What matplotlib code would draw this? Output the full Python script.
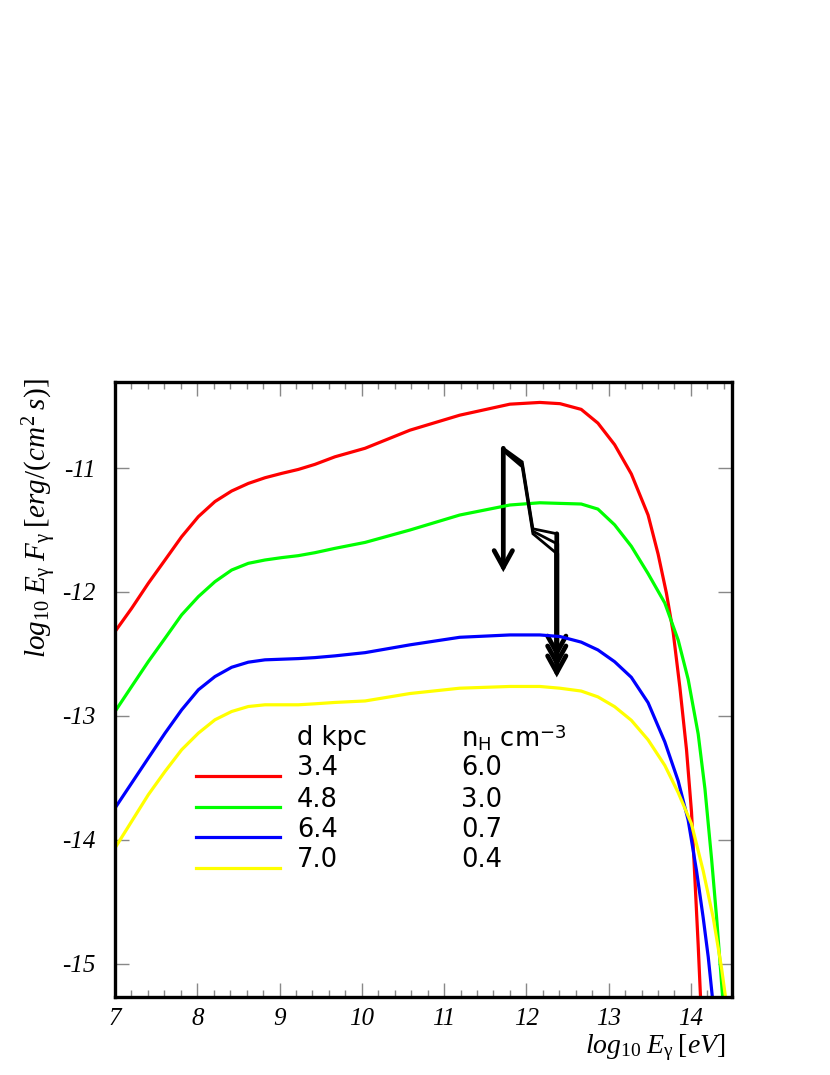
import numpy as np
import matplotlib.pyplot as plt
from matplotlib.patches import FancyArrowPatch
from matplotlib.ticker import MultipleLocator

plt.rcParams['mathtext.fontset'] = 'custom'
plt.rcParams['mathtext.rm'] = 'Liberation Serif'
plt.rcParams['mathtext.it'] = 'Liberation Serif:italic'
plt.rcParams['mathtext.sf'] = 'DejaVu Sans'
plt.rcParams['axes.unicode_minus'] = False

# ── data ─────────────────────────────────────────────────────────────────────
red_x = [7.0, 7.2025, 7.405, 7.608, 7.81, 8.013, 8.215, 8.418, 8.62, 8.823, 9.025,
         9.228, 9.43, 9.673, 10.04, 10.585, 11.19, 11.8, 12.164, 12.41, 12.667,
         12.87, 13.073, 13.276, 13.48, 13.602, 13.703, 13.785, 13.866, 13.947,
         14.008, 14.049, 14.089, 14.122]
red_y = [-12.32, -12.132, -11.93, -11.742, -11.554, -11.392, -11.27, -11.185,
         -11.124, -11.078, -11.043, -11.011, -10.97, -10.909, -10.84, -10.694,
         -10.573, -10.484, -10.47, -10.48, -10.526, -10.637, -10.811, -11.047,
         -11.379, -11.695, -12.01, -12.326, -12.768, -13.273, -13.778, -14.315,
         -14.852, -15.34]

green_x = [7.0, 7.2025, 7.405, 7.608, 7.81, 8.013, 8.215, 8.418, 8.62, 8.823, 9.025,
           9.228, 9.43, 9.673, 10.04, 10.585, 11.19, 11.8, 12.164, 12.41, 12.667,
           12.87, 13.073, 13.276, 13.48, 13.683, 13.846, 13.967, 14.089, 14.171,
           14.252, 14.313, 14.394]
green_y = [-12.965, -12.763, -12.562, -12.374, -12.185, -12.038, -11.917, -11.823,
           -11.769, -11.742, -11.723, -11.707, -11.683, -11.648, -11.6, -11.5,
           -11.379, -11.298, -11.28, -11.285, -11.29, -11.331, -11.458, -11.631,
           -11.852, -12.089, -12.389, -12.705, -13.147, -13.589, -14.157, -14.631,
           -15.34]

blue_x = [7.0, 7.2025, 7.405, 7.608, 7.81, 8.013, 8.215, 8.418, 8.62, 8.823, 9.025,
          9.228, 9.43, 9.673, 10.04, 10.585, 11.19, 11.8, 12.164, 12.41, 12.667,
          12.87, 13.073, 13.276, 13.48, 13.683, 13.846, 13.967, 14.069, 14.15,
          14.211, 14.272]
blue_y = [-13.745, -13.543, -13.341, -13.14, -12.952, -12.79, -12.683, -12.608,
          -12.567, -12.548, -12.543, -12.538, -12.53, -12.516, -12.49, -12.427,
          -12.366, -12.347, -12.347, -12.36, -12.405, -12.468, -12.563, -12.689,
          -12.894, -13.21, -13.526, -13.841, -14.252, -14.631, -14.946, -15.34]

yellow_x = [7.0, 7.2025, 7.405, 7.608, 7.81, 8.013, 8.215, 8.418, 8.62, 8.823, 9.025,
            9.228, 9.43, 9.673, 10.04, 10.585, 11.19, 11.8, 12.164, 12.407, 12.667,
            12.87, 13.073, 13.276, 13.48, 13.683, 13.846, 14.008, 14.15, 14.272,
            14.374, 14.435]
yellow_y = [-14.067, -13.852, -13.637, -13.449, -13.274, -13.14, -13.032, -12.965,
            -12.925, -12.911, -12.911, -12.911, -12.903, -12.892, -12.88, -12.82,
            -12.777, -12.763, -12.763, -12.777, -12.8, -12.847, -12.926, -13.036,
            -13.194, -13.4, -13.62, -13.873, -14.252, -14.631, -15.041, -15.34]

dist_kpc = ['3.4', '4.8', '6.4', '7.0']
n_h = ['6.0', '3.0', '0.7', '0.4']
colors = ['#ff0000', '#00ff00', '#0000ff', '#ffff00']

# measured spectrum (three fits) and upper limits
meas_x = [11.72, 11.95, 12.08, 12.37]
meas_y = [[-10.84, -10.95, -11.49, -11.53],
          [-10.85, -10.97, -11.51, -11.61],
          [-10.86, -10.99, -11.53, -11.69]]
ul_x = [11.72, 12.37, 12.37, 12.37]
ul_y = [-10.84, -11.53, -11.61, -11.69]
ul_len = 1.0

# ── plot ─────────────────────────────────────────────────────────────────────
fig = plt.figure(figsize=(8.3, 10.75), dpi=100)
ax = fig.add_axes([115 / 830, 1 - 997 / 1075, (732 - 115) / 830, (997 - 382) / 1075])

curves = [(red_x, red_y), (green_x, green_y), (blue_x, blue_y), (yellow_x, yellow_y)]
for (cx, cy), col in zip(curves, colors):
    ax.plot(cx, cy, color=col, lw=2.3, solid_joinstyle='round')

for my in meas_y:
    ax.plot(meas_x, my, color='black', lw=2.0, solid_joinstyle='miter')

for xu, yu in zip(ul_x, ul_y):
    arr = FancyArrowPatch((xu, yu), (xu, yu - ul_len),
                          arrowstyle='->,head_length=0.6,head_width=0.33',
                          mutation_scale=20, lw=3.4, color='black',
                          shrinkA=0, shrinkB=0, joinstyle='miter')
    ax.add_patch(arr)

# legend block drawn as text + sample lines
leg_y = [-13.484, -13.736, -13.978, -14.228]
fs_leg = 18.5
for i, col in enumerate(colors):
    ax.plot([7.99, 9.0], [leg_y[i], leg_y[i]], color=col, lw=2.3)
    ax.text(9.21, leg_y[i] + 0.06, dist_kpc[i], fontsize=fs_leg, family='DejaVu Sans',
            va='center', ha='left')
    ax.text(11.21, leg_y[i] + 0.06, n_h[i], fontsize=fs_leg, family='DejaVu Sans',
            va='center', ha='left')
ax.text(9.21, -13.177, 'd kpc', fontsize=fs_leg, family='DejaVu Sans',
        va='center', ha='left')
ax.text(11.21, -13.177, r'n$_{\mathsf{H}}$ cm$^{\mathsf{-3}}$', fontsize=fs_leg,
        family='DejaVu Sans', va='center', ha='left')

ax.set_xlim(7, 14.5)
ax.set_ylim(-15.27, -10.305)
ax.xaxis.set_major_locator(MultipleLocator(1))
ax.xaxis.set_minor_locator(MultipleLocator(0.2))
ax.yaxis.set_major_locator(MultipleLocator(1))
ax.tick_params(which='both', direction='in', top=True, right=True, color='#888888')
ax.tick_params(which='major', length=10, width=1.0, pad=8, labelsize=18)
ax.tick_params(which='minor', length=5, width=1.0)
ax.tick_params(axis='y', pad=14)
for lab in ax.get_xticklabels() + ax.get_yticklabels():
    lab.set_family('Liberation Serif')
    lab.set_style('italic')
for sp in ax.spines.values():
    sp.set_linewidth(2.4)
    sp.set_color('black')

fig.text(725 / 830, 1 - 1048 / 1075,
         r'$log_{\mathit{10}}\;E_{\mathrm{\gamma}}\;[eV]$',
         fontsize=20, ha='right', va='center')
fig.text(40 / 830, 1 - 378 / 1075,
         r'$log_{\mathit{10}}\;E_{\mathrm{\gamma}}\;F_{\mathrm{\gamma}}\;[erg/(cm^{2}\;s)]$',
         fontsize=21, rotation=90, ha='center', va='top')

fig.savefig('out.png', dpi=100)
